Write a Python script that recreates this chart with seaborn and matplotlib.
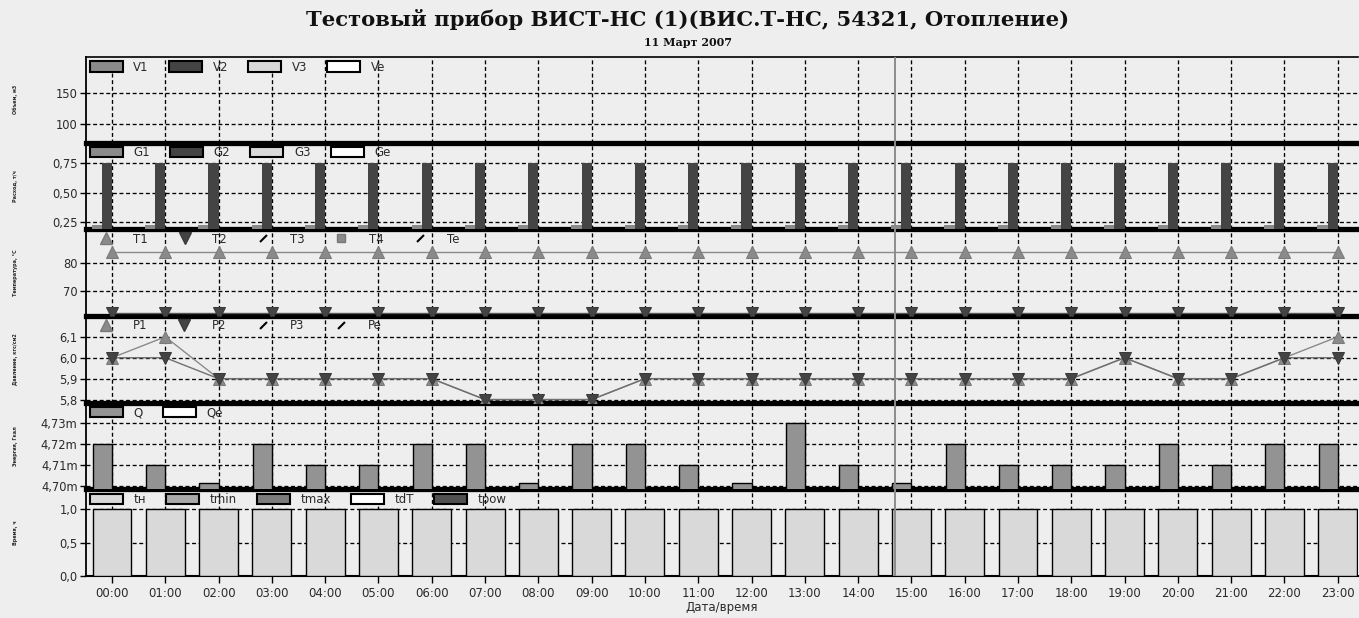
import numpy as np
import pandas as pd
import matplotlib
matplotlib.use("Agg")
import matplotlib.pyplot as plt
from matplotlib.patches import Patch
from matplotlib.lines import Line2D
import seaborn as sns

# ---------------------------------------------------------------- data
hours = ["00:00", "01:00", "02:00", "03:00", "04:00", "05:00", "06:00", "07:00",
         "08:00", "09:00", "10:00", "11:00", "12:00", "13:00", "14:00", "15:00",
         "16:00", "17:00", "18:00", "19:00", "20:00", "21:00", "22:00", "23:00"]

# mass flow, t/h
g1 = [0.23, 0.23, 0.23, 0.23, 0.23, 0.23, 0.23, 0.23, 0.23, 0.23, 0.23, 0.23,
      0.23, 0.23, 0.23, 0.23, 0.23, 0.23, 0.23, 0.23, 0.23, 0.23, 0.23, 0.23]
g2 = [0.75, 0.75, 0.75, 0.75, 0.75, 0.75, 0.75, 0.75, 0.75, 0.75, 0.75, 0.75,
      0.75, 0.75, 0.75, 0.75, 0.75, 0.75, 0.75, 0.75, 0.75, 0.75, 0.75, 0.75]
g3 = [0.0] * 24
ge = [0.0] * 24

# temperatures, °C
t1 = [84, 84, 84, 84, 84, 84, 84, 84, 84, 84, 84, 84,
      84, 84, 84, 84, 84, 84, 84, 84, 84, 84, 84, 84]
t2 = [62, 62, 62, 62, 62, 62, 62, 62, 62, 62, 62, 62,
      62, 62, 62, 62, 62, 62, 62, 62, 62, 62, 62, 62]

# pressures
p1 = [6.0, 6.1, 5.9, 5.9, 5.9, 5.9, 5.9, 5.8, 5.8, 5.8, 5.9, 5.9,
      5.9, 5.9, 5.9, 5.9, 5.9, 5.9, 5.9, 6.0, 5.9, 5.9, 6.0, 6.1]
p2 = [6.0, 6.0, 5.9, 5.9, 5.9, 5.9, 5.9, 5.8, 5.8, 5.8, 5.9, 5.9,
      5.9, 5.9, 5.9, 5.9, 5.9, 5.9, 5.9, 6.0, 5.9, 5.9, 6.0, 6.0]

# heat energy
q = [0.00472, 0.00471, 0.0047015, 0.00472, 0.00471, 0.00471, 0.00472, 0.00472,
     0.0047015, 0.00472, 0.00472, 0.00471, 0.0047015, 0.00473, 0.00471, 0.0047015,
     0.00472, 0.00471, 0.00471, 0.00471, 0.00472, 0.00471, 0.00472, 0.00472]
qe = [0.0] * 24

# normal operating time, h
t_norm = [1.0, 1.0, 1.0, 1.0, 1.0, 1.0, 1.0, 1.0, 1.0, 1.0, 1.0, 1.0,
          1.0, 1.0, 1.0, 1.0, 1.0, 1.0, 1.0, 1.0, 1.0, 1.0, 1.0, 1.0]

cursor_hour = 14.7

v_ticks, v_labels = [100, 150], ["100", "150"]
g_ticks, g_labels = [0.25, 0.50, 0.75], ["0,25", "0,50", "0,75"]
t_ticks, t_labels = [70, 80], ["70", "80"]
p_ticks, p_labels = [5.8, 5.9, 6.0, 6.1], ["5,8", "5,9", "6,0", "6,1"]
q_ticks, q_labels = [0.00470, 0.00471, 0.00472, 0.00473], ["4,70m", "4,71m", "4,72m", "4,73m"]
n_ticks, n_labels = [0.0, 0.5, 1.0], ["0,0", "0,5", "1,0"]

title = "Тестовый прибор ВИСТ-НС (1)(ВИС.Т-НС, 54321, Отопление)"
subtitle = "11 Март 2007"
panel_names = ["Объем, м3", "Расход, т/ч", "Температура, °C",
               "Давление, кгс/см2", "Энергия, Гкал", "Время, ч"]

# ---------------------------------------------------------------- style
BG = "#eeeeee"
C_LIGHT = "#d9d9d9"
C_MID = "#8a8a8a"
C_DARK = "#444444"
TXT = "#2a2a2a"

W, H = 1359, 618
fig = plt.figure(figsize=(W / 100, H / 100), dpi=100, facecolor=BG)

x_left, x_right = 86, 1358
bounds = [57, 142.7, 229.3, 315.7, 402.5, 489.3, 576]
ylims = [(68.3, 210), (0.191, 0.925), (60.9, 92.4), (5.786, 6.201),
         (0.0046984, 0.004740), (0.0, 1.30)]

axes = []
for i in range(6):
    top, bot = bounds[i], bounds[i + 1]
    ax = fig.add_axes([x_left / W, 1 - bot / H, (x_right - x_left) / W, (bot - top) / H])
    ax.set_facecolor("none")
    axes.append(ax)

ax_v, ax_g, ax_t, ax_p, ax_q, ax_n = axes
xpos = np.arange(len(hours))

# flow bars (G1..Ge dodged inside each hour slot)
df_g = pd.DataFrame({
    "hour": hours * 4,
    "value": g1 + g2 + g3 + ge,
    "series": ["G1"] * 24 + ["G2"] * 24 + ["G3"] * 24 + ["Ge"] * 24,
})
sns.barplot(data=df_g, x="hour", y="value", hue="series", order=hours,
            hue_order=["G1", "G2", "G3", "Ge"],
            palette=[C_MID, C_DARK, C_LIGHT, "white"], width=0.76,
            saturation=1, errorbar=None, legend=False, ax=ax_g, zorder=3)

# temperature lines
sns.lineplot(x=xpos, y=t1, color="#8a8a8a", lw=1.0, marker="^", markersize=8.5,
             markeredgecolor="#7a7a7a", markerfacecolor="#8a8a8a", ax=ax_t, zorder=4)
sns.lineplot(x=xpos, y=t2, color="#555555", lw=1.0, marker="v", markersize=8.5,
             markeredgecolor="#3a3a3a", markerfacecolor="#444444", ax=ax_t, zorder=4)

# pressure lines
sns.lineplot(x=xpos, y=p1, color="#8a8a8a", lw=1.0, marker="^", markersize=8.5,
             markeredgecolor="#7a7a7a", markerfacecolor="#8a8a8a", ax=ax_p, zorder=4)
sns.lineplot(x=xpos, y=p2, color="#707070", lw=1.0, marker="v", markersize=8.5,
             markeredgecolor="#3a3a3a", markerfacecolor="#444444", ax=ax_p, zorder=5)

# heat bars
df_q = pd.DataFrame({
    "hour": hours * 2,
    "value": q + qe,
    "series": ["Q"] * 24 + ["Qe"] * 24,
})
sns.barplot(data=df_q, x="hour", y="value", hue="series", order=hours,
            hue_order=["Q", "Qe"], palette=["#939393", "white"], width=0.72,
            saturation=1, errorbar=None, legend=False, edgecolor="black",
            linewidth=1.0, ax=ax_q, zorder=3)

# operating time bars
sns.barplot(x=hours, y=t_norm, order=hours, color=C_LIGHT, width=0.73,
            saturation=1, errorbar=None, edgecolor="black", linewidth=1.0,
            ax=ax_n, zorder=3)

# ---------------------------------------------------------------- axes
tick_sets = [(v_ticks, v_labels), (g_ticks, g_labels), (t_ticks, t_labels),
             (p_ticks, p_labels), (q_ticks, q_labels), (n_ticks, n_labels)]

for i, ax in enumerate(axes):
    ax.set_xlim(-0.488, 23.38)
    ax.set_ylim(*ylims[i])
    ax.set_xticks(xpos)
    ax.set_yticks(tick_sets[i][0])
    ax.set_yticklabels(tick_sets[i][1])
    ax.set_xlabel("")
    ax.set_ylabel("")
    ax.set_axisbelow(True)
    ax.grid(True, color="black", linestyle=(0, (3, 2)), linewidth=0.95)
    ax.tick_params(axis="y", direction="out", length=4, width=1, colors="black",
                   labelsize=8.3, labelcolor=TXT, pad=2)
    for s in ("right", "top"):
        ax.spines[s].set_visible(False)
    ax.spines["left"].set_linewidth(1.3)
    ax.spines["left"].set_color("black")
    if i < 5:
        ax.tick_params(axis="x", length=0, labelbottom=False)
        ax.spines["bottom"].set_linewidth(3.8)
        ax.spines["bottom"].set_color("black")
    else:
        ax.set_xticklabels(hours)
        ax.tick_params(axis="x", direction="out", length=5, width=1,
                       labelsize=8.5, labelcolor=TXT, pad=3)
        ax.spines["bottom"].set_linewidth(1.5)
    ax.axvline(cursor_hour, color="#8c8c8c", lw=1.4, zorder=6)

ax_v.spines["top"].set_visible(True)
ax_v.spines["top"].set_linewidth(1.2)
ax_n.set_xlabel("Дата/время", fontsize=8.5, color=TXT, labelpad=1)

# ---------------------------------------------------------------- legends
def patch(c):
    return Patch(facecolor=c, edgecolor="black", linewidth=1.5)

def mark(m, fc, ec):
    return Line2D([], [], linestyle="none", marker=m, markersize=8.5,
                  markerfacecolor=fc, markeredgecolor=ec)

slash = Line2D([], [], linestyle="none", marker=[(-1, -1), (1, 1)], markersize=5,
               markeredgewidth=1.5, color="black")
square = Line2D([], [], linestyle="none", marker="s", markersize=6,
                markerfacecolor="#8a8a8a", markeredgecolor="#777777")

legends = [
    (ax_v, [patch(C_MID), patch(C_DARK), patch(C_LIGHT), patch("white")],
     ["V1", "V2", "V3", "Ve"]),
    (ax_g, [patch(C_MID), patch(C_DARK), patch(C_LIGHT), patch("white")],
     ["G1", "G2", "G3", "Ge"]),
    (ax_t, [mark("^", "#8a8a8a", "#7a7a7a"), mark("v", "#444444", "#3a3a3a"),
            slash, square, slash], ["T1", "T2", "T3", "T4", "Te"]),
    (ax_p, [mark("^", "#8a8a8a", "#7a7a7a"), mark("v", "#444444", "#3a3a3a"),
            slash, slash], ["P1", "P2", "P3", "Pe"]),
    (ax_q, [patch("#939393"), patch("white")], ["Q", "Qe"]),
    (ax_n, [patch(C_LIGHT), patch("#a8a8a8"), patch("#7c7c7c"), patch("white"),
            patch("#505050")], ["tн", "tmin", "tmax", "tdT", "tpow"]),
]
for ax, handles, labels in legends:
    leg = ax.legend(handles, labels, ncol=len(labels), loc="upper left",
                    bbox_to_anchor=(0, 1), frameon=False, fontsize=8.5,
                    handlelength=2.8, handleheight=0.95, handletextpad=0.9,
                    columnspacing=1.7, borderaxespad=0, borderpad=0.3)
    for t in leg.get_texts():
        t.set_color(TXT)
    leg.set_zorder(10)

# ---------------------------------------------------------------- titles
fig.text(688 / W, 1 - 20 / H, title, ha="center", va="center", fontsize=15.2,
         fontweight="bold", family="DejaVu Serif", color="#111111")
fig.text(688 / W, 1 - 43 / H, subtitle, ha="center", va="center", fontsize=8,
         fontweight="bold", family="DejaVu Serif", color="#111111")

for i, name in enumerate(panel_names):
    yc = 1 - (bounds[i] + bounds[i + 1]) / 2 / H
    fig.text(15 / W, yc, name, rotation=90, ha="center", va="center",
             fontsize=3.5, fontweight="bold", color=TXT)

fig.savefig("out.png", dpi=100, facecolor=BG)
